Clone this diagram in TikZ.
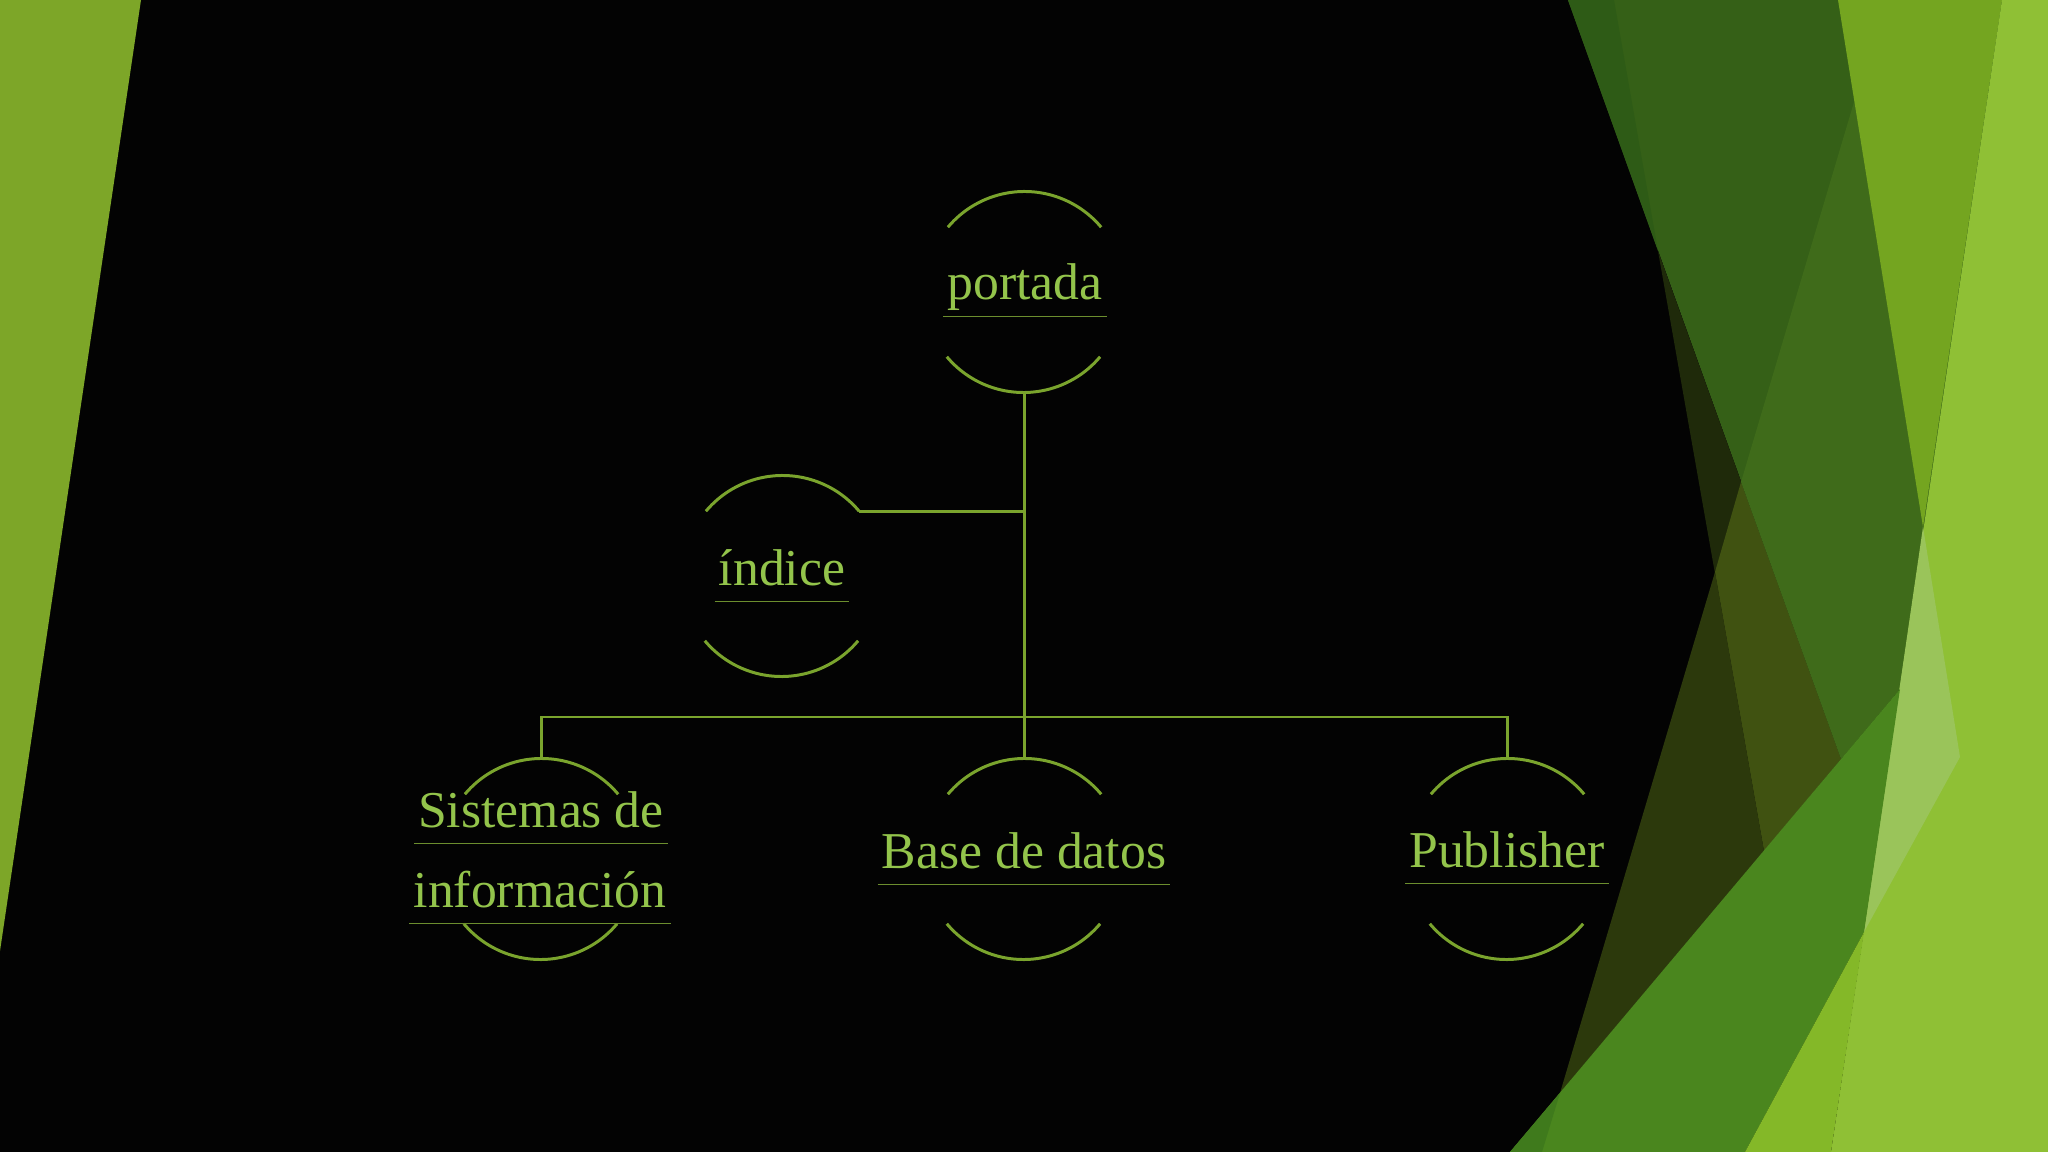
\documentclass[tikz,border=0pt]{standalone}
\usepackage{fontspec}
\setmainfont{Liberation Serif}
\definecolor{txtgreen}{HTML}{93C44B}
\definecolor{linegreen}{HTML}{7AA42D}
\definecolor{ulgreen}{HTML}{6C8E2E}
\definecolor{leftgreen}{HTML}{7DA628}
\definecolor{slidebg}{HTML}{030303}

\begin{document}
\begin{tikzpicture}[x=0.01cm,y=-0.01cm,
    ring/.style={circle,minimum size=2cm,inner sep=0pt},
    lbl/.style={anchor=base,text=txtgreen,font=\fontsize{14.7}{18}\selectfont,inner xsep=1pt,inner ysep=0pt,text depth=4.5pt},
    link/.style={draw=linegreen,line width=0.85pt},
    uline/.style={draw=ulgreen,line width=0.5pt}]
\fill[slidebg] (0,0) rectangle (2048,1152);
\useasboundingbox (0,0) rectangle (2048,1152);
\fill[leftgreen] (0,0) -- (141,0) -- (0,951) -- cycle;
\fill[fill={rgb,255:red,53;green,96;blue,23}] (1568,0) -- (1841,759) -- (2048,513) -- (2048,0) -- cycle;
\fill[fill={rgb,255:red,46;green,91;blue,22}] (1568,0) -- (1614,0) -- (1658,251) -- cycle;
\fill[fill={rgb,255:red,31;green,42;blue,10}] (1658,251) -- (1841,759) -- (1764,851) -- cycle;
\fill[fill={rgb,255:red,64;green,82;blue,17}] (1715,572) -- (1741,482) -- (1841,759) -- (1764,851) -- cycle;
\fill[fill={rgb,255:red,44;green,57;blue,12}] (1715,572) -- (1764,851) -- (1560,1093) -- cycle;
\fill[fill={rgb,255:red,63;green,107;blue,26}] (1854,102) -- (1741,482) -- (1841,759) -- (2048,513) -- (2048,102) -- cycle;
\fill[fill={rgb,255:red,116;green,165;blue,32}] (1838,0) -- (2002,0) -- (1923,527) -- cycle;
\fill[fill={rgb,255:red,143;green,192;blue,53}] (2002,0) -- (1831,1152) -- (2048,1152) -- (2048,0) -- cycle;
\fill[fill={rgb,255:red,154;green,196;blue,90}] (1923,527) -- (1960,757) -- (1864,932) -- cycle;
\fill[fill={rgb,255:red,74;green,134;blue,30}] (1510,1152) -- (1900,689) -- (1864,932) -- (1745,1152) -- cycle;
\fill[fill={rgb,255:red,63;green,122;blue,28}] (1510,1152) -- (1560,1093) -- (1542,1152) -- cycle;
\fill[fill={rgb,255:red,132;green,184;blue,40}] (1864,932) -- (1745,1152) -- (1831,1152) -- cycle;

\node[ring] (portada) at (1024,292) {};
\node[ring] (indice) at (782,576) {};
\node[ring] (sistemas) at (541,859) {};
\node[ring] (base) at (1024,859) {};
\node[ring] (publisher) at (1507,859) {};
\foreach \n in {portada,indice,sistemas,base,publisher}{
    \draw[link] (\n.40) arc[start angle=40,end angle=140,radius=1cm];
    \draw[link] (\n.220) arc[start angle=220,end angle=320,radius=1cm];
}
\node[lbl] (portadaT) at (1025,300) {portada};
\node[lbl] (indiceT) at (782,585) {índice};
\node[lbl] (sistemasT) at (541,827) {Sistemas de};
\node[lbl] (sistemasT2) at (540,907) {información};
\node[lbl] (baseT) at (1024,868) {Base de datos};
\node[lbl] (publisherT) at (1507,867) {Publisher};
\foreach \t in {portadaT,indiceT,sistemasT,sistemasT2,baseT,publisherT}
    \draw[uline] (\t.south west) -- (\t.south east);

\coordinate (bus) at (1024,717);
\draw[link] (portada.south) -- (base.north);
\draw[link] (indice.40) -- (indice.40 -| portada.south);
\draw[link] (sistemas.north) |- (bus) -| (publisher.north);
\end{tikzpicture}
\end{document}
